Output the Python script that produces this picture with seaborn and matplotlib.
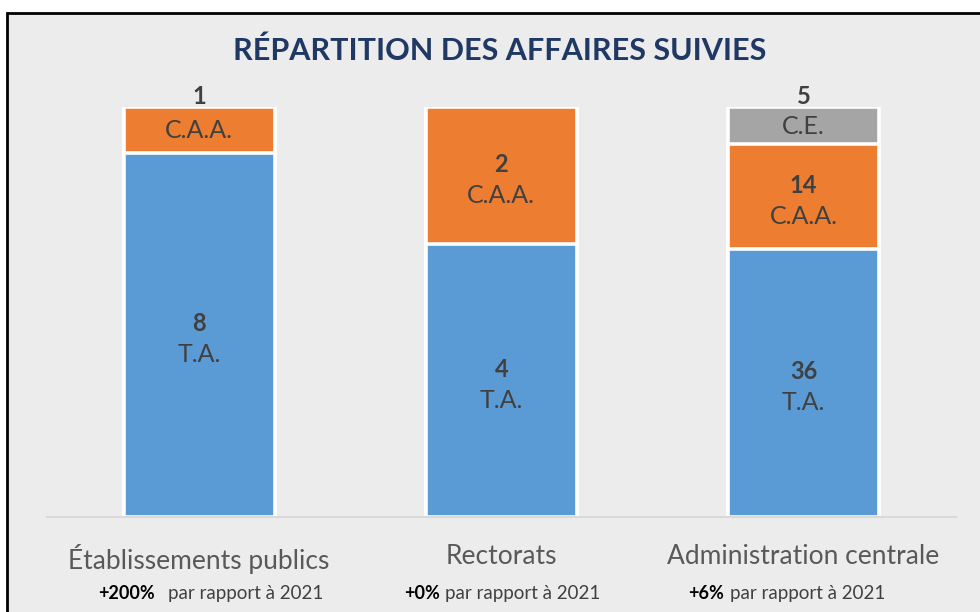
import matplotlib.pyplot as plt
import seaborn as sns
import pandas as pd
from matplotlib.patches import Rectangle

# Data
categories = ['Établissements publics', 'Rectorats', 'Administration centrale']
ta = [8, 4, 36]
caa = [1, 2, 14]
ce = [0, 0, 5]
evolution = ['+200%', '+0%', '+6%']
segments = ['T.A.', 'C.A.A.', 'C.E.']
colors = ['#5B9BD5', '#ED7D31', '#A5A5A5']

sns.set_theme(style='white')
plt.rcParams['font.family'] = ['Lato', 'DejaVu Sans']

# Shares of each segment per category (100% stacked)
counts = pd.DataFrame({'T.A.': ta, 'C.A.A.': caa, 'C.E.': ce}, index=categories)
shares = counts.div(counts.sum(axis=1), axis=0)
tops = shares.cumsum(axis=1)

fig = plt.figure(figsize=(9.8, 6.12), dpi=100)
fig.patches.append(Rectangle((0.007, -0.02), 1.0, 0.999, transform=fig.transFigure,
                             facecolor='#ececec', edgecolor='black', lw=2, zorder=-1))
ax = fig.add_axes([0.048, 0.155, 0.927, 0.67])
ax.set_facecolor('none')

# Draw cumulative bars from top segment down so each layer covers the previous
for seg, col in reversed(list(zip(segments, colors))):
    sns.barplot(x=categories, y=tops[seg].values, color=col, width=0.5,
                edgecolor='white', linewidth=2.6, saturation=1, ax=ax)

# Segment labels
for i, cat in enumerate(categories):
    for seg in segments:
        n = counts.loc[cat, seg]
        if n == 0:
            continue
        share = shares.loc[cat, seg]
        center = tops.loc[cat, seg] - share / 2
        if share < 0.15:
            ax.annotate(str(n), xy=(i, tops.loc[cat, seg]), xytext=(0, 11),
                        textcoords='offset pixels', ha='center', va='center',
                        fontsize=17, fontweight='bold', color='#404040')
            ax.annotate(seg, xy=(i, center), xytext=(0, -1),
                        textcoords='offset pixels', ha='center', va='center',
                        fontsize=18, color='#404040')
        else:
            ax.annotate(str(n), xy=(i, center), xytext=(0, 11),
                        textcoords='offset pixels', ha='center', va='center',
                        fontsize=17, fontweight='bold', color='#404040')
            ax.annotate(seg, xy=(i, center), xytext=(0, -20),
                        textcoords='offset pixels', ha='center', va='center',
                        fontsize=18, color='#404040')

# Evolution notes under category names (pixel offsets from bar centre)
bold_ends = [-44, -61, -79]
text_starts = [-31, -56, -73]
for i, ev in enumerate(evolution):
    ax.annotate(ev, xy=(i, 0), xycoords=('data', 'axes fraction'),
                xytext=(bold_ends[i], -76), textcoords='offset pixels',
                ha='right', va='center', fontsize=13, fontweight='bold',
                color='black')
    ax.annotate('par rapport à 2021', xy=(i, 0), xycoords=('data', 'axes fraction'),
                xytext=(text_starts[i], -76), textcoords='offset pixels',
                ha='left', va='center', fontsize=13.5, color='#404040')

ax.set_xlim(-0.503, 2.503)
ax.set_ylim(0, 1)
ax.set_yticks([])
ax.set_xticks(range(len(categories)))
ax.set_xticklabels(categories, fontsize=19, color='#595959')
ax.tick_params(axis='x', length=0, pad=19)
ax.set_xlabel('')
ax.set_ylabel('')
for side in ['top', 'left', 'right']:
    ax.spines[side].set_visible(False)
ax.spines['bottom'].set_color('#d9d9d9')
ax.spines['bottom'].set_linewidth(1.5)

fig.text(0.51, 0.917, 'RÉPARTITION DES AFFAIRES SUIVIES', ha='center', va='center',
         fontsize=22, fontweight='bold', color='#1F3864',
         family=['Liberation Sans Narrow', 'Lato', 'DejaVu Sans'])

fig.savefig('out.png', dpi=100)
